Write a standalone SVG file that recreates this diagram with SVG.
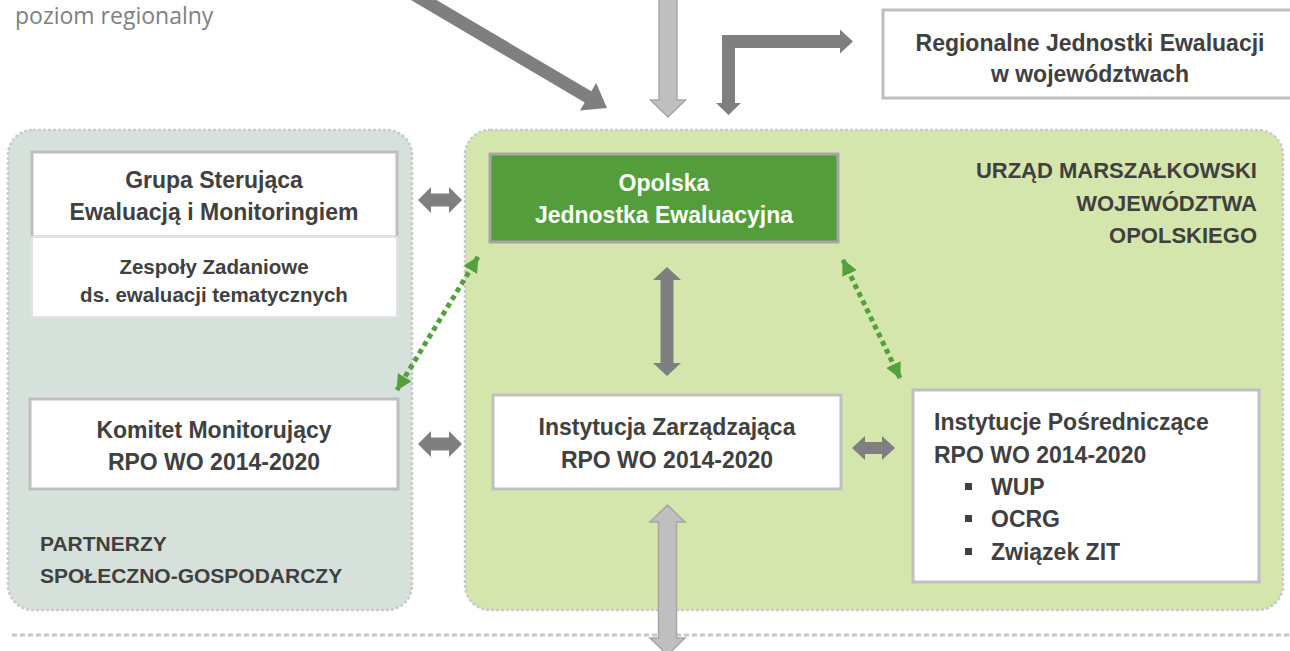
<svg xmlns="http://www.w3.org/2000/svg" width="1290" height="651" viewBox="0 0 1290 651">
<defs>
<style>
.t{font-family:"Liberation Sans",Arial,sans-serif;font-weight:bold;fill:#404040;}
.c{text-anchor:middle;}
.r{text-anchor:end;}
.box{fill:#fff;stroke:#BFBFBF;stroke-width:3;}
.cont{stroke:#CACACA;stroke-width:2.5;stroke-dasharray:3 2;}
.dk{fill:#7F7F7F;}
.lt{fill:#BFBFBF;stroke:#A6A6A6;stroke-width:1.5;}
.gd{stroke:#54A03C;stroke-width:5;stroke-dasharray:5 4;fill:none;}
</style>
<marker id="gh" viewBox="0 0 16 16" refX="15" refY="8" markerWidth="16" markerHeight="16" markerUnits="userSpaceOnUse" orient="auto-start-reverse"><path d="M0,0 L16,8 L0,16 z" fill="#54A03C"/></marker>
</defs>
<rect width="1290" height="651" fill="#fff"/>
<text x="15" y="24" font-family="'Open Sans',sans-serif" font-size="23" fill="#7F7F7F">poziom regionalny</text>

<g id="partnerzy">
<rect class="cont" x="8" y="130" width="404" height="480" rx="25" fill="#D7E1DC"/>
<text class="t" x="40" y="551" font-size="21">PARTNERZY</text>
<text class="t" x="40" y="583" font-size="21">SPOŁECZNO-GOSPODARCZY</text>
</g>
<g id="urzad">
<rect class="cont" x="465" y="130" width="818" height="480" rx="25" fill="#D5E6AC"/>
<text class="t r" x="1257" y="178" font-size="22">URZĄD MARSZAŁKOWSKI</text>
<text class="t r" x="1257" y="211" font-size="22">WOJEWÓDZTWA</text>
<text class="t r" x="1257" y="243" font-size="22">OPOLSKIEGO</text>
</g>
<line x1="12" y1="635" x2="1290" y2="635" stroke="#C8C8C8" stroke-width="3" stroke-dasharray="5 3"/>

<g id="regionalne">
<rect class="box" x="883" y="10" width="420" height="88"/>
<text class="t c" x="1090" y="51" font-size="23">Regionalne Jednostki Ewaluacji</text>
<text class="t c" x="1090" y="82" font-size="23">w województwach</text>
</g>
<g id="grupa">
<rect class="box" x="32" y="152" width="365" height="85"/>
<text class="t c" x="214" y="188" font-size="23">Grupa Sterująca</text>
<text class="t c" x="214" y="220" font-size="23">Ewaluacją i Monitoringiem</text>
</g>
<g id="zespoly">
<rect x="32" y="237" width="365" height="80" fill="#fff" stroke="#E2E2E2" stroke-width="2"/>
<text class="t c" x="214" y="274" font-size="20.5">Zespoły Zadaniowe</text>
<text class="t c" x="214" y="302" font-size="20.5">ds. ewaluacji tematycznych</text>
</g>
<g id="komitet">
<rect class="box" x="30" y="399" width="368" height="90"/>
<text class="t c" x="214" y="438" font-size="23">Komitet Monitorujący</text>
<text class="t c" x="214" y="470" font-size="23">RPO WO 2014-2020</text>
</g>
<g id="opolska">
<rect x="490" y="154" width="348" height="88" fill="#539E3B" stroke="#A6A6A6" stroke-width="3"/>
<text class="t c" x="664" y="191" font-size="23" style="fill:#fff">Opolska</text>
<text class="t c" x="664" y="223" font-size="23" style="fill:#fff">Jednostka Ewaluacyjna</text>
</g>
<g id="iz">
<rect class="box" x="493" y="395" width="348" height="94"/>
<text class="t c" x="667" y="435" font-size="23">Instytucja Zarządzająca</text>
<text class="t c" x="667" y="468" font-size="23">RPO WO 2014-2020</text>
</g>
<g id="ip">
<rect class="box" x="913" y="390" width="346" height="192"/>
<text class="t" x="934" y="430" font-size="23">Instytucje Pośredniczące</text>
<text class="t" x="934" y="463" font-size="23">RPO WO 2014-2020</text>
<rect x="965" y="483" width="7" height="7" fill="#404040"/>
<text class="t" x="991" y="495" font-size="23">WUP</text>
<rect x="965" y="515" width="7" height="7" fill="#404040"/>
<text class="t" x="991" y="527" font-size="23">OCRG</text>
<rect x="965" y="548" width="7" height="7" fill="#404040"/>
<text class="t" x="991" y="560" font-size="23">Związek ZIT</text>
</g>

<g id="connectors">
<polygon class="dk" transform="translate(607,108) rotate(30.5)" points="-280,-6.5 -22,-6.5 -22,-16 0,0 -22,16 -22,6.5 -280,6.5"/>
<polygon class="lt" points="659,-5 677,-5 677,100 685.5,100 668,117 650.5,100 659,100"/>
<polygon class="dk" points="722,35 840,35 840,29.5 853,41.5 840,53.5 840,48 735,48 735,103 741,103 728.5,115 716,103 722,103"/>
<polygon class="dk" points="418,200 431,187 431,193.5 449,193.5 449,187 462,200 449,213 449,206.5 431,206.5 431,213"/>
<polygon class="dk" points="418,444 431,431 431,437.5 449,437.5 449,431 462,444 449,457 449,450.5 431,450.5 431,457"/>
<polygon class="dk" points="852,448 865,436 865,442 882,442 882,436 895,448 882,460 882,454 865,454 865,460"/>
<polygon class="dk" points="667,267 681,280 673.5,280 673.5,363 681,363 667,376 653,363 660.5,363 660.5,280 653,280"/>
<polygon class="lt" points="667.5,505 685,522 676.5,522 676.5,638 685,638 667.5,655 650,638 658.5,638 658.5,522 650,522"/>
<line class="gd" x1="478" y1="257" x2="397" y2="390" marker-start="url(#gh)" marker-end="url(#gh)"/>
<line class="gd" x1="843" y1="260" x2="900" y2="378" marker-start="url(#gh)" marker-end="url(#gh)"/>
</g>
</svg>
